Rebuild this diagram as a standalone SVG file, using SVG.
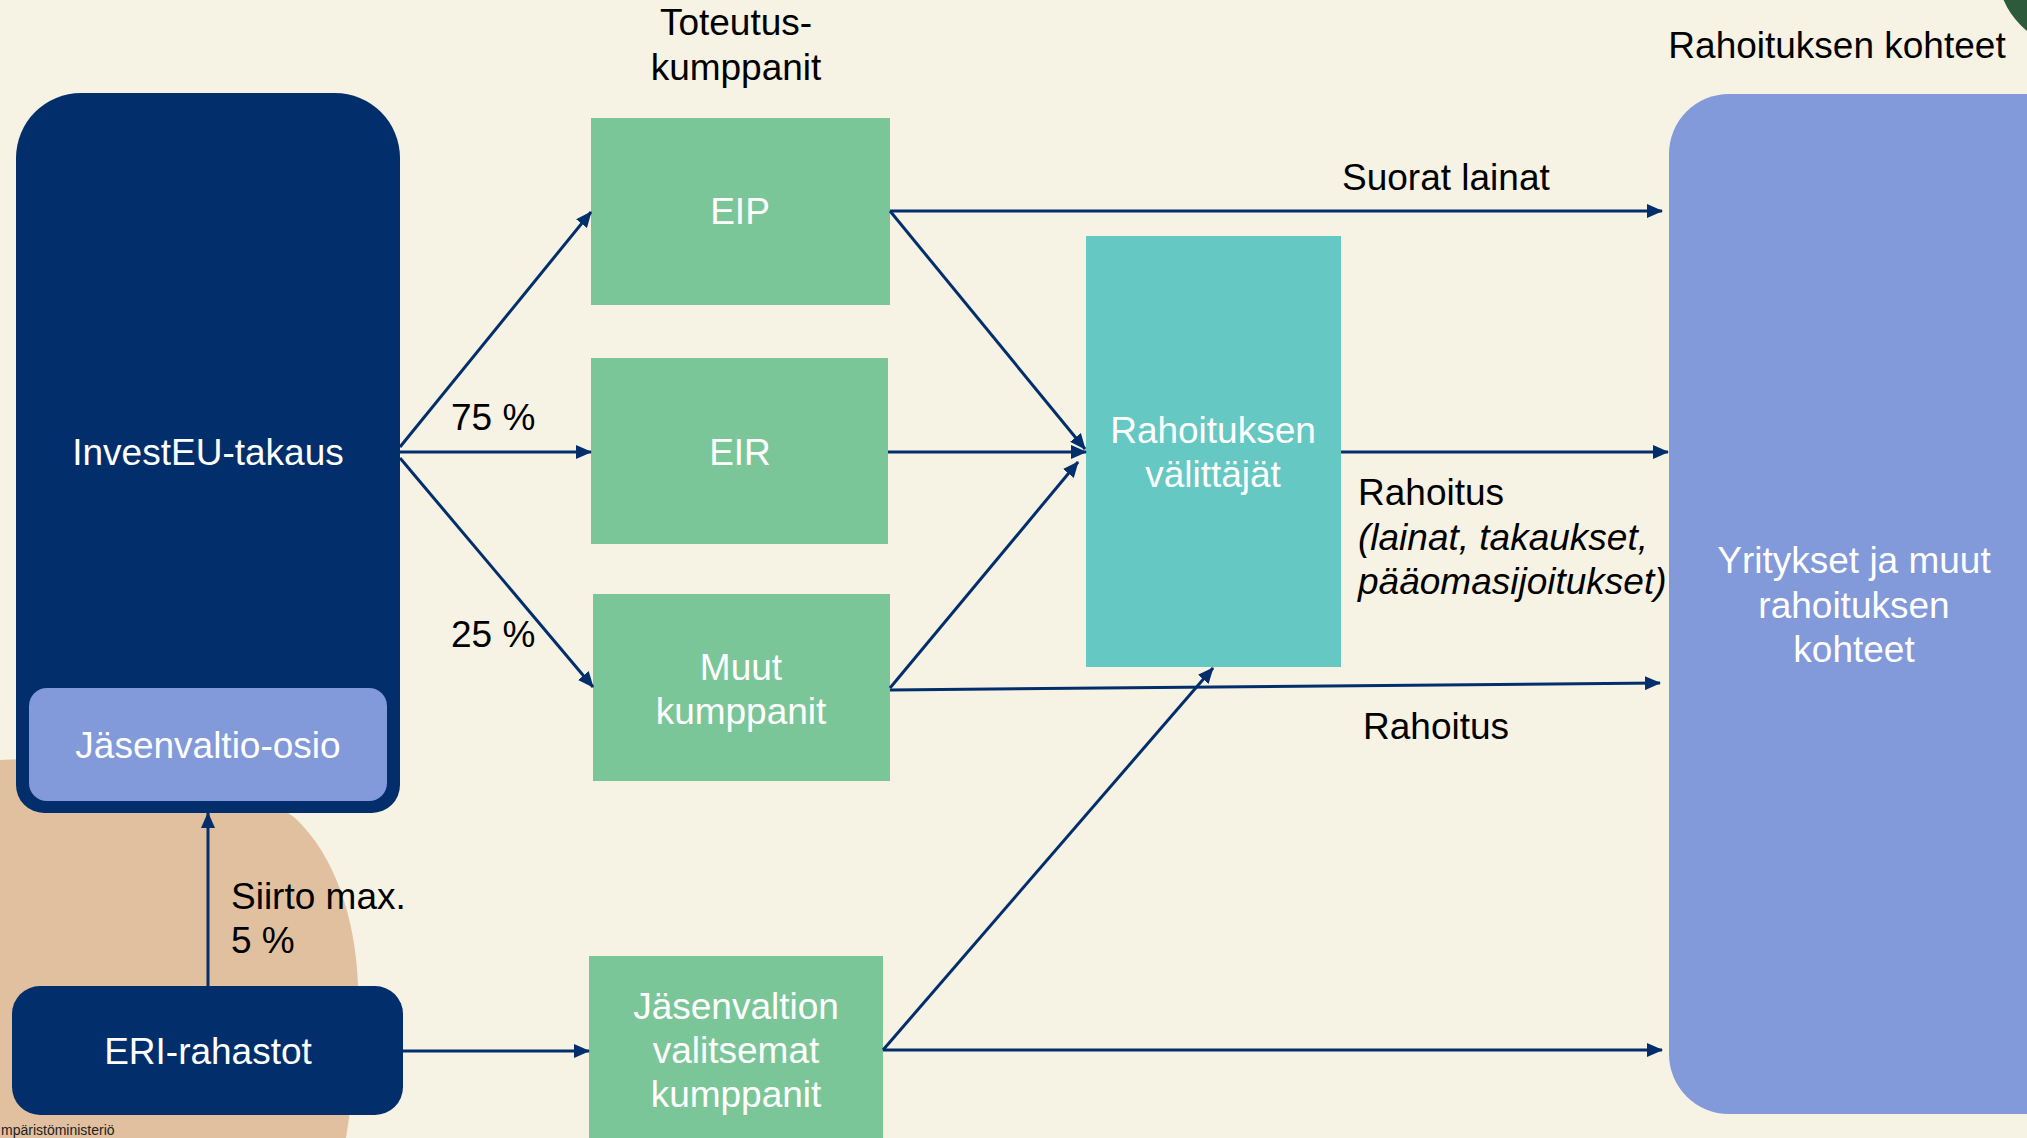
<svg xmlns="http://www.w3.org/2000/svg" width="2027" height="1138" viewBox="0 0 2027 1138">
  <style>
    .t { font-family: "Liberation Sans", Arial, sans-serif; font-size: 37px; }
    .w { fill: #ffffff; }
    .b { fill: #000000; }
    .mid { text-anchor: middle; }
    .navy { fill: #022F6B; }
    .green { fill: #7BC699; }
    .teal { fill: #66C8C3; }
    .peri { fill: #8299DA; }
    .conn line { stroke: #022F6B; stroke-width: 3; fill: none; marker-end: url(#arr); }
  </style>
  <defs>
    <marker id="arr" markerUnits="userSpaceOnUse" markerWidth="16" markerHeight="14" refX="15" refY="7" orient="auto">
      <path d="M0,0 L16,7 L0,14 Z" fill="#022F6B"/>
    </marker>
  </defs>

  <rect x="0" y="0" width="2027" height="1138" fill="#F6F2E4"/>

  <!-- decorations -->
  <path d="M0,760 C120,752 240,775 295,818 C335,855 356,920 358,985 C360,1050 352,1100 346,1138 L0,1138 Z" fill="#E0C09F"/>
  <circle cx="2078" cy="-32" r="81" fill="#2D5A3B"/>
  <text x="1" y="1135" font-family="Liberation Sans, Arial, sans-serif" font-size="14" fill="#222222">mpäristöministeriö</text>

  <!-- headers -->
  <text class="t b mid" x="736" y="35">Toteutus-</text>
  <text class="t b mid" x="736" y="80">kumppanit</text>
  <text class="t b mid" x="1837" y="58">Rahoituksen kohteet</text>

  <g id="investeu">
    <path class="navy" d="M16,158 A65,65 0 0 1 81,93 L335,93 A65,65 0 0 1 400,158 L400,785 A28,28 0 0 1 372,813 L44,813 A28,28 0 0 1 16,785 Z"/>
    <text class="t w mid" x="208" y="465">InvestEU-takaus</text>
  </g>
  <g id="jasenvaltio-osio">
    <rect class="peri" x="29" y="688" width="358" height="113" rx="18"/>
    <text class="t w mid" x="208" y="758">Jäsenvaltio-osio</text>
  </g>
  <g id="eri">
    <rect class="navy" x="12" y="986" width="391" height="129" rx="28"/>
    <text class="t w mid" x="208" y="1064">ERI-rahastot</text>
  </g>
  <g id="eip">
    <rect class="green" x="591" y="118" width="299" height="187"/>
    <text class="t w mid" x="740" y="224">EIP</text>
  </g>
  <g id="eir">
    <rect class="green" x="591" y="358" width="297" height="186"/>
    <text class="t w mid" x="740" y="465">EIR</text>
  </g>
  <g id="muut">
    <rect class="green" x="593" y="594" width="297" height="187"/>
    <text class="t w mid" x="741" y="680">Muut</text>
    <text class="t w mid" x="741" y="724">kumppanit</text>
  </g>
  <g id="jasenvaltion-kumppanit">
    <rect class="green" x="589" y="956" width="294" height="190"/>
    <text class="t w mid" x="736" y="1019">Jäsenvaltion</text>
    <text class="t w mid" x="736" y="1063">valitsemat</text>
    <text class="t w mid" x="736" y="1107">kumppanit</text>
  </g>
  <g id="valittajat">
    <rect class="teal" x="1086" y="236" width="255" height="431"/>
    <text class="t w mid" x="1213" y="443">Rahoituksen</text>
    <text class="t w mid" x="1213" y="487">välittäjät</text>
  </g>
  <g id="kohteet">
    <rect class="peri" x="1669" y="94" width="430" height="1020" rx="60"/>
    <text class="t w mid" x="1854" y="573">Yritykset ja muut</text>
    <text class="t w mid" x="1854" y="618">rahoituksen</text>
    <text class="t w mid" x="1854" y="662">kohteet</text>
  </g>

  <g id="connectors" class="conn">
    <line x1="400" y1="447" x2="591" y2="212"/>
    <line x1="400" y1="452" x2="591" y2="452"/>
    <line x1="400" y1="458" x2="593" y2="687"/>
    <line x1="890" y1="211" x2="1662" y2="211"/>
    <line x1="890" y1="211" x2="1085" y2="449"/>
    <line x1="888" y1="452" x2="1086" y2="452"/>
    <line x1="890" y1="688" x2="1078" y2="462"/>
    <line x1="890" y1="690" x2="1660" y2="683"/>
    <line x1="883" y1="1050" x2="1213" y2="668"/>
    <line x1="883" y1="1050" x2="1662" y2="1050"/>
    <line x1="403" y1="1051" x2="589" y2="1051"/>
    <line x1="208" y1="986" x2="208" y2="813"/>
    <line x1="1341" y1="452" x2="1668" y2="452"/>
  </g>

  <!-- connector labels -->
  <text class="t b" x="451" y="430">75 %</text>
  <text class="t b" x="451" y="647">25 %</text>
  <text class="t b" x="231" y="909">Siirto max.</text>
  <text class="t b" x="231" y="953">5 %</text>
  <text class="t b" x="1342" y="190">Suorat lainat</text>
  <text class="t b" x="1358" y="505">Rahoitus</text>
  <text class="t b" x="1358" y="550" font-style="italic">(lainat, takaukset,</text>
  <text class="t b" x="1358" y="594" font-style="italic">pääomasijoitukset)</text>
  <text class="t b" x="1363" y="739">Rahoitus</text>
</svg>
